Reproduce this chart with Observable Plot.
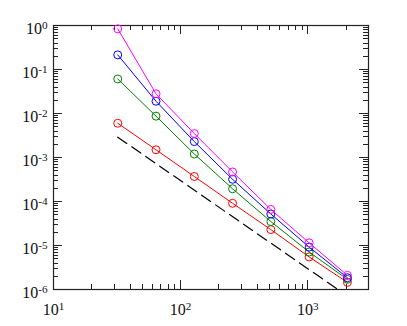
<!DOCTYPE html>
<html><head><meta charset="utf-8">
<script src="https://cdn.jsdelivr.net/npm/d3@7"></script>
<script src="https://cdn.jsdelivr.net/npm/@observablehq/plot@0.6"></script>
<style>body{margin:0;background:#fff;overflow:hidden} #chart svg{display:block}</style>
</head><body><div id="chart"></div>
<script>
const N = [32, 64, 128, 256, 512, 1024, 2048];
const magentaErr = [0.84, 0.028, 0.0035, 0.00047, 6.6e-5, 1.15e-5, 2.1e-6];
const blueErr    = [0.215, 0.019, 0.0023, 0.00032, 5.2e-5, 9.2e-6, 1.85e-6];
const greenErr   = [0.061, 0.0087, 0.0012, 0.000195, 3.5e-5, 7.1e-6, 1.7e-6];
const redErr     = [0.006, 0.0015, 0.00037, 9.1e-5, 2.3e-5, 5.5e-6, 1.45e-6];
const refX = [32, 2048];
const refY = [0.0029, 0.0029 / 4096];
const xMajor = [10, 100, 1000];
const xMinor = [20,30,40,50,60,70,80,90,200,300,400,500,600,700,800,900,2000];
const yMajor = [1, 1e-1, 1e-2, 1e-3, 1e-4, 1e-5, 1e-6];
const yMinor = [];
for (let e = -6; e < 0; e++) for (let m = 2; m <= 9; m++) yMinor.push(m * Math.pow(10, e));

const series = [
  {values: redErr, color: "#ff0000"},
  {values: greenErr, color: "#008000"},
  {values: blueErr, color: "#0000ff"},
  {values: magentaErr, color: "#ff00ff"}
];

const W = 407, H = 326, mL = 53, mR = 39, mT = 25, mB = 37;
const iW = W - mL - mR, iH = H - mT - mB;
const xDom = [10, 3000], yDom = [1e-6, 1];
const tickC = "#222";
const majL = 9, minL = 5;
const yFac = L => Math.pow(yDom[1] / yDom[0], L / iH);
const xFac = L => Math.pow(xDom[1] / xDom[0], L / iW);

const FONT = "'Liberation Serif', 'Times New Roman', serif";
const baseSize = 16, supSize = 11.2;
const ctx = document.createElement("canvas").getContext("2d");
function tw(s, size) {
  ctx.font = size + "px " + FONT;
  const w = ctx.measureText(s).width;
  return w > 0 ? w : s.length * size * 0.5;
}
const expOf = d => String(Math.round(Math.log10(d)));
const w10 = tw("10", baseSize);
const wXsup = tw("1", supSize);
const xTot = w10 + wXsup;

const marks = [];
marks.push(Plot.frame({stroke: tickC, strokeWidth: 1.2, fill: "none"}));
for (const [ticks, L] of [[xMajor, majL], [xMinor, minL]]) {
  marks.push(Plot.ruleX(ticks, {x: d => d, y1: yDom[0], y2: yDom[0] * yFac(L), stroke: tickC, shapeRendering: "crispEdges"}));
  marks.push(Plot.ruleX(ticks, {x: d => d, y1: yDom[1], y2: yDom[1] / yFac(L), stroke: tickC, shapeRendering: "crispEdges"}));
}
for (const [ticks, L] of [[yMajor, majL], [yMinor, minL]]) {
  marks.push(Plot.ruleY(ticks, {y: d => d, x1: xDom[0], x2: xDom[0] * xFac(L), stroke: tickC, shapeRendering: "crispEdges"}));
  marks.push(Plot.ruleY(ticks, {y: d => d, x1: xDom[1], x2: xDom[1] / xFac(L), stroke: tickC, shapeRendering: "crispEdges"}));
}
marks.push(Plot.line(refX, {x: d => d, y: (d, i) => refY[i], stroke: "black", strokeDasharray: "11,6", strokeWidth: 1.2, clip: true}));
for (const s of series) {
  marks.push(Plot.line(N, {x: d => d, y: (d, i) => s.values[i], stroke: s.color, strokeWidth: 1}));
  marks.push(Plot.dot(N, {x: d => d, y: (d, i) => s.values[i], stroke: s.color, r: 4, strokeWidth: 1}));
}
// x tick labels: "10" plus a superscript exponent, whole label centred on the tick
marks.push(Plot.text(xMajor, {x: d => d, frameAnchor: "bottom", lineAnchor: "middle", textAnchor: "start", dx: -xTot / 2, dy: 20.5, text: () => "10", fontSize: baseSize, fill: "#111"}));
marks.push(Plot.text(xMajor, {x: d => d, frameAnchor: "bottom", lineAnchor: "middle", textAnchor: "start", dx: -xTot / 2 + w10, dy: 17, text: expOf, fontSize: supSize, fill: "#111"}));
// y tick labels: right-aligned, exponent superscript
const yGroups = [yMajor.filter(d => d === 1), yMajor.filter(d => d !== 1)];
for (const grp of yGroups) {
  const wSup = tw(expOf(grp[0]), supSize);
  marks.push(Plot.text(grp, {y: d => d, frameAnchor: "left", lineAnchor: "middle", textAnchor: "end", dx: -6, dy: 0, text: expOf, fontSize: supSize, fill: "#111"}));
  marks.push(Plot.text(grp, {y: d => d, frameAnchor: "left", lineAnchor: "middle", textAnchor: "end", dx: -6 - wSup, dy: 3.5, text: () => "10", fontSize: baseSize, fill: "#111"}));
}

const svg = Plot.plot({
  width: W, height: H,
  marginLeft: mL, marginRight: mR, marginTop: mT, marginBottom: mB,
  x: {type: "log", domain: xDom, axis: null},
  y: {type: "log", domain: yDom, axis: null},
  style: {fontFamily: FONT, fontSize: baseSize + "px", background: "white", overflow: "visible"},
  marks
});
document.getElementById("chart").appendChild(svg);
</script>
</body></html>
